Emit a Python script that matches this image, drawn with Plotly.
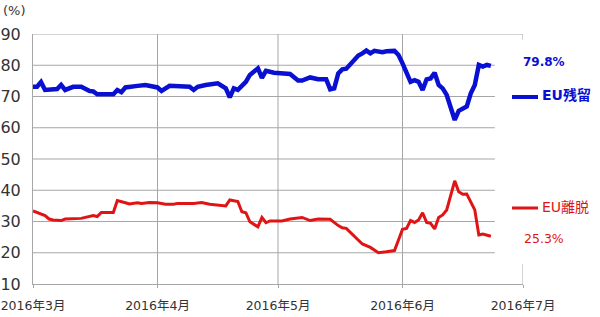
import plotly.graph_objects as go

# ---- data ----
remain_dates = ["2016-03-01","2016-03-02","2016-03-03","2016-03-04","2016-03-07","2016-03-08","2016-03-09",
    "2016-03-11","2016-03-13","2016-03-15","2016-03-16","2016-03-17","2016-03-21","2016-03-22","2016-03-23",
    "2016-03-24","2016-03-27","2016-03-29","2016-04-01","2016-04-02","2016-04-04","2016-04-09","2016-04-10",
    "2016-04-11","2016-04-13","2016-04-16","2016-04-18","2016-04-19","2016-04-20","2016-04-21","2016-04-23",
    "2016-04-24","2016-04-26","2016-04-27","2016-04-28","2016-04-30","2016-05-04","2016-05-06","2016-05-07",
    "2016-05-09","2016-05-11","2016-05-13","2016-05-14","2016-05-15","2016-05-16","2016-05-17","2016-05-18",
    "2016-05-20","2016-05-21","2016-05-22","2016-05-23","2016-05-24","2016-05-25","2016-05-27","2016-05-28",
    "2016-05-30","2016-05-31","2016-06-01","2016-06-02","2016-06-03","2016-06-04","2016-06-05","2016-06-06",
    "2016-06-07","2016-06-08","2016-06-09","2016-06-10","2016-06-11","2016-06-12","2016-06-14","2016-06-15",
    "2016-06-17","2016-06-18","2016-06-19","2016-06-20","2016-06-21","2016-06-22","2016-06-23"]
remain_vals = [73.1,73.1,74.6,72.1,72.4,73.7,72.1,
    73.1,73.1,71.8,71.6,70.7,70.7,72.1,71.4,
    72.9,73.4,73.7,72.9,71.8,73.4,73.1,72.1,
    73.1,73.7,74.2,72.6,69.7,72.6,72.1,74.7,
    76.9,79.0,76.0,78.2,77.6,77.2,75.1,75.1,
    76.1,75.5,75.5,72.3,72.6,77.4,78.7,78.9,
    81.5,83.1,83.8,84.7,83.8,84.6,84.2,84.5,
    84.6,83.3,80.6,77.4,74.7,75.2,74.7,72.1,
    75.5,75.8,77.6,73.7,72.6,70.5,62.5,65.4,
    66.8,71.0,73.7,80.1,79.6,80.1,79.8]

leave_dates = ["2016-03-01","2016-03-02","2016-03-04","2016-03-05","2016-03-06","2016-03-08","2016-03-09",
    "2016-03-13","2016-03-14","2016-03-16","2016-03-17","2016-03-18","2016-03-21","2016-03-22","2016-03-24",
    "2016-03-25","2016-03-27","2016-03-28","2016-03-30","2016-04-01","2016-04-03","2016-04-05","2016-04-06",
    "2016-04-09","2016-04-10","2016-04-12","2016-04-14","2016-04-18","2016-04-19","2016-04-21","2016-04-22",
    "2016-04-23","2016-04-24","2016-04-26","2016-04-27","2016-04-28","2016-04-29","2016-05-02","2016-05-04",
    "2016-05-07","2016-05-09","2016-05-11","2016-05-14","2016-05-16","2016-05-17","2016-05-18","2016-05-20",
    "2016-05-22","2016-05-24","2016-05-26","2016-05-28","2016-05-30","2016-05-31","2016-06-01","2016-06-02",
    "2016-06-03","2016-06-04","2016-06-05","2016-06-06","2016-06-07","2016-06-08","2016-06-09","2016-06-10",
    "2016-06-11","2016-06-12","2016-06-14","2016-06-15","2016-06-16","2016-06-17","2016-06-19","2016-06-20",
    "2016-06-21","2016-06-23"]
leave_vals = [33.4,32.9,31.9,30.8,30.5,30.3,30.8,
    31.0,31.3,31.9,31.6,32.9,32.9,36.7,36.0,
    35.6,36.0,35.8,36.1,36.0,35.5,35.5,35.8,
    35.8,35.8,36.1,35.5,35.0,36.9,36.4,33.1,
    32.8,29.9,28.3,31.3,29.6,30.2,30.2,30.8,
    31.3,30.3,30.8,30.7,28.7,28.0,27.8,25.4,
    22.8,21.7,20.0,20.3,20.7,24.1,27.5,27.8,
    30.3,29.7,30.5,32.8,29.7,29.4,27.6,31.3,
    32.1,33.7,43.0,39.5,38.7,38.8,33.7,25.7,
    26.0,25.3]

x_ticks = ["2016-03-01","2016-04-01","2016-05-01","2016-06-01","2016-07-01"]
x_tick_labels = ["2016年3月","2016年4月","2016年5月","2016年6月","2016年7月"]
y_ticks = [10,20,30,40,50,60,70,80,90]

remain_name = "EU残留"
leave_name = "EU離脱"
remain_last = "79.8%"
leave_last = "25.3%"

BLUE = "#0a10d2"
RED = "#e01414"
GRID = "#a6a6a6"
FONT = "DejaVu Sans, Noto Sans CJK JP, sans-serif"

fig = go.Figure()
fig.add_trace(go.Scatter(x=remain_dates, y=remain_vals, mode="lines",
                         line=dict(color=BLUE, width=4.5), name=remain_name, showlegend=False))
fig.add_trace(go.Scatter(x=leave_dates, y=leave_vals, mode="lines",
                         line=dict(color=RED, width=3), name=leave_name, showlegend=False))

shapes = []
grid_end = "2016-06-24"
for v in y_ticks[1:-1]:
    shapes.append(dict(type="line", xref="x", yref="y", x0="2016-03-01", x1=grid_end, y0=v, y1=v,
                       line=dict(color=GRID, width=1), layer="below"))
for v in [90]:
    shapes.append(dict(type="line", xref="x", yref="y", x0="2016-03-01", x1="2016-07-01", y0=v, y1=v,
                       line=dict(color=GRID, width=1), layer="below"))
for d in x_ticks[1:4]:
    shapes.append(dict(type="line", xref="x", yref="y", x0=d, x1=d, y0=10, y1=90,
                       line=dict(color=GRID, width=1), layer="below"))
shapes.append(dict(type="line", xref="x", yref="y", x0="2016-07-01", x1="2016-07-01", y0=90, y1=88,
                   line=dict(color=GRID, width=1)))
shapes.append(dict(type="line", xref="x", yref="y", x0="2016-07-01", x1="2016-07-01", y0=10, y1=16.5,
                   line=dict(color=GRID, width=1)))

def px(xp):
    return (xp - 33) / 490.0
def py(yp):
    return (284 - yp) / 250.0

shapes.append(dict(type="line", xref="paper", yref="paper", x0=px(512), x1=px(538), y0=py(97), y1=py(97),
                   line=dict(color=BLUE, width=4)))
shapes.append(dict(type="line", xref="paper", yref="paper", x0=px(512), x1=px(538), y0=py(208), y1=py(208),
                   line=dict(color=RED, width=3)))

annotations = [
    dict(text="(%)", xref="paper", yref="paper", x=px(1), y=py(11), xanchor="left", yanchor="middle",
         showarrow=False, font=dict(family=FONT, size=13, color="#333")),
    dict(text="<b>" + remain_last + "</b>", xref="paper", yref="paper", x=px(521), y=py(62),
         xanchor="left", yanchor="middle", showarrow=False, font=dict(family=FONT, size=12, color=BLUE)),
    dict(text="<b>" + remain_name + "</b>", xref="paper", yref="paper", x=px(540), y=py(95),
         xanchor="left", yanchor="middle", showarrow=False, font=dict(family=FONT, size=14, color=BLUE)),
    dict(text=leave_name, xref="paper", yref="paper", x=px(540), y=py(207),
         xanchor="left", yanchor="middle", showarrow=False, font=dict(family=FONT, size=14, color=RED)),
    dict(text=leave_last, xref="paper", yref="paper", x=px(522), y=py(238),
         xanchor="left", yanchor="middle", showarrow=False, font=dict(family=FONT, size=12.5, color=RED)),
]

fig.update_layout(
    width=600, height=317,
    margin=dict(l=33, r=77, t=34, b=33, autoexpand=False),
    paper_bgcolor="white", plot_bgcolor="white",
    shapes=shapes, annotations=annotations,
    font=dict(family=FONT, color="#333"),
    xaxis=dict(range=["2016-03-01", "2016-07-01"], tickvals=x_ticks, ticktext=x_tick_labels,
               showgrid=False, zeroline=False, showline=True, linecolor=GRID, linewidth=1,
               ticks="outside", ticklen=3, tickcolor=GRID, ticklabelstandoff=7, automargin=False,
               tickfont=dict(family=FONT, size=12.5, color="#333")),
    yaxis=dict(range=[10, 90], tickvals=y_ticks, showgrid=False, zeroline=False, automargin=False,
               showline=True, linecolor=GRID, linewidth=1, ticks="", ticklabelstandoff=8,
               tickfont=dict(family=FONT, size=16, color="#333")),
)

fig.write_html("out.html")
